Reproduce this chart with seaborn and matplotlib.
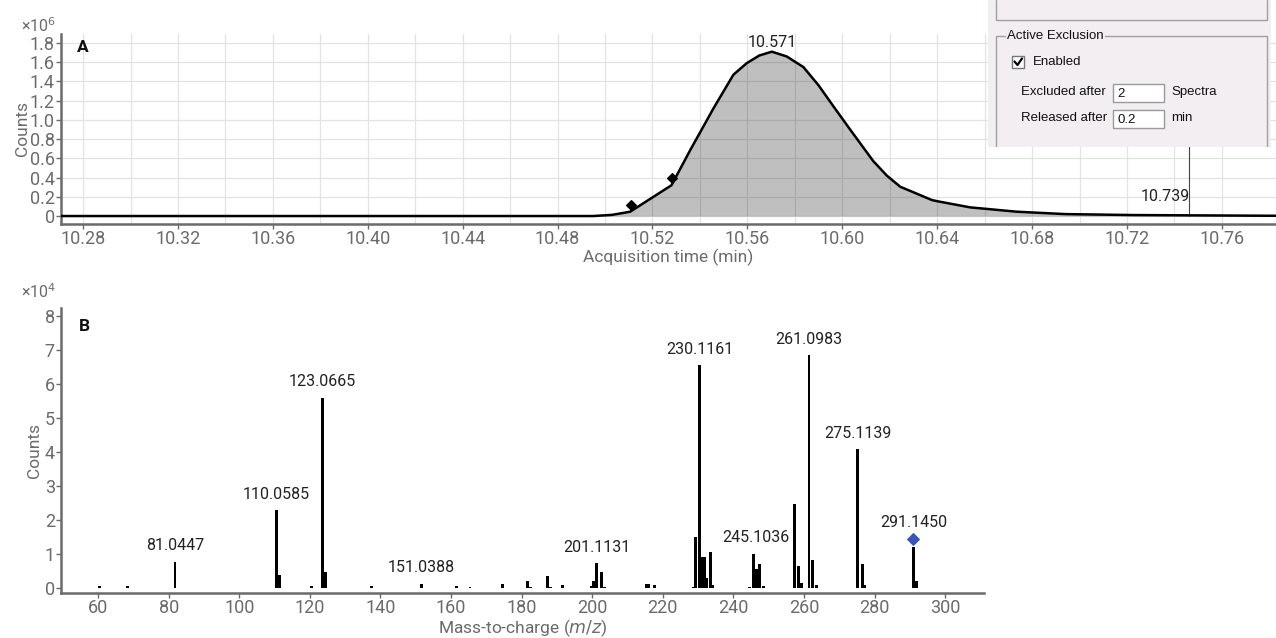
import matplotlib
matplotlib.use('Agg')
import matplotlib.pyplot as plt
import matplotlib.patches as mpatches
import seaborn as sns
import numpy as np
import pandas as pd

# chromatogram (A), counts x1e6
rt = [10.27, 10.40, 10.495, 10.503, 10.5106, 10.528, 10.536, 10.5457, 10.5541, 10.5597,
      10.5650, 10.5703, 10.5766, 10.5836, 10.5900, 10.5963, 10.6033, 10.6131, 10.6188,
      10.6244, 10.6377, 10.6398, 10.6539, 10.6735, 10.694, 10.7226, 10.7789, 10.785]
counts = [0.0, 0.0, 0.0, 0.012, 0.045, 0.32, 0.69, 1.12, 1.47, 1.59,
          1.67, 1.71, 1.66, 1.55, 1.36, 1.14, 0.90, 0.57, 0.42,
          0.305, 0.167, 0.155, 0.09, 0.045, 0.02, 0.01, 0.003, 0.003]
ms2_rt = [10.511, 10.5284]
ms2_counts = [0.115, 0.40]
apex_rt, apex_label = 10.5703, '10.571'
marker_rt, marker_label = 10.746, '10.739'

# spectrum (B), counts x1e4
mz = [60.4, 68.4, 81.8, 110.55, 111.4, 120.5, 123.56, 124.4, 137.4, 151.6,
      161.5, 165.4, 174.5, 181.6, 182.6, 187.4, 188.2, 191.6, 199.8, 200.4,
      201.3, 202.6, 203.4, 215.3, 216.0, 217.6, 228.6, 229.2, 230.5, 231.3,
      231.9, 232.4, 233.6, 234.2, 244.5, 245.6, 246.3, 246.9, 247.4, 248.5,
      257.2, 258.4, 259.2, 261.4, 262.3, 263.5, 275.2, 276.5, 277.3, 291.0, 291.9]
inten = [0.05, 0.05, 0.77, 2.29, 0.38, 0.05, 5.60, 0.48, 0.05, 0.12,
         0.05, 0.03, 0.12, 0.20, 0.03, 0.35, 0.03, 0.08, 0.05, 0.20,
         0.73, 0.46, 0.03, 0.12, 0.12, 0.10, 0.03, 1.51, 6.56, 0.90,
         0.90, 0.30, 1.07, 0.10, 0.03, 1.00, 0.55, 0.55, 0.70, 0.07,
         2.47, 0.65, 0.15, 6.85, 0.82, 0.08, 4.08, 0.70, 0.08, 1.21, 0.20]
label_mz = [81.8, 110.55, 123.56, 151.6, 201.3, 230.5, 246.3, 261.4, 275.2, 291.0]
label_y = [0.77, 2.29, 5.60, 0.12, 0.73, 6.56, 1.00, 6.85, 4.08, 1.45]
label_txt = ['81.0447', '110.0585', '123.0665', '151.0388', '201.1131', '230.1161',
             '245.1036', '261.0983', '275.1139', '291.1450']
precursor_mz, precursor_y = 291.0, 1.45

sns.set_theme(style='white')
plt.rcParams['font.family'] = ['Roboto', 'DejaVu Sans']
gray = '#6b6b6b'

fig = plt.figure(figsize=(12.76, 6.38), dpi=100)
W, H = 1276, 638

# ---------- panel A ----------
axA = fig.add_axes([61 / W, 1 - 224 / H, 1 - 61 / W, 190 / H])
df_a = pd.DataFrame({'rt': rt, 'counts': counts})
axA.fill_between(df_a['rt'], df_a['counts'], 0, color='black', alpha=0.25, lw=0, zorder=1)
sns.lineplot(data=df_a, x='rt', y='counts', ax=axA, color='black', lw=1.8, zorder=3)
axA.scatter(ms2_rt, ms2_counts, marker='D', s=24, color='black', zorder=4)
axA.text(apex_rt, 1.73, apex_label, ha='center', va='bottom', fontsize=11.5, color='#222222')
axA.vlines(marker_rt, 0, 1.9, color='#444444', lw=0.8, zorder=2)
axA.text(marker_rt + 0.0005, 0.12, marker_label, ha='right', va='bottom', fontsize=11.5, color='#222222')

axA.set_xlim(10.2707, 10.7828)
axA.set_ylim(-0.083, 1.894)
axA.set_xticks(np.arange(10.28, 10.77, 0.04))
axA.set_xticks(np.arange(10.28, 10.78, 0.02), minor=True)
axA.set_xticklabels([f'{v:.2f}' for v in np.arange(10.28, 10.77, 0.04)])
yt = np.arange(0, 1.81, 0.2)
axA.set_yticks(yt)
axA.set_yticklabels(['0'] + [f'{v:.1f}' for v in yt[1:]])
axA.grid(True, which='both', color='#e3e3e3', lw=0.9, zorder=0)
axA.set_axisbelow(True)
axA.set_xlabel('Acquisition time (min)', color=gray, fontsize=12.5, labelpad=0)
axA.set_ylabel('Counts', color=gray, fontsize=12.5, labelpad=0)
axA.text(0.013, 0.97, 'A', transform=axA.transAxes, fontsize=12.5, fontweight='bold',
         va='top', color='#111111')

# ---------- panel B ----------
axB = fig.add_axes([61 / W, 1 - 593 / H, (984 - 61) / W, 285 / H])
df_b = pd.DataFrame({'mz': mz, 'inten': inten})
axB.bar(df_b['mz'], df_b['inten'], width=0.8, color='black', lw=0)
for x, y, t in zip(label_mz, label_y, label_txt):
    axB.text(x, y + 0.25, t, ha='center', va='bottom', fontsize=11.5, color='#222222')
axB.scatter([precursor_mz], [precursor_y], marker='D', s=34, color='#3a55b4', zorder=4)
axB.set_xlim(49.5, 311)
axB.set_ylim(-0.15, 8.24)
axB.set_xticks(np.arange(60, 301, 20))
axB.set_yticks(np.arange(0, 9, 1))
axB.set_xlabel('Mass-to-charge ($m/z$)', color=gray, fontsize=12.5, labelpad=0)
axB.set_ylabel('Counts', color=gray, fontsize=12.5, labelpad=2)
axB.text(0.019, 0.96, 'B', transform=axB.transAxes, fontsize=12.5, fontweight='bold',
         va='top', color='#111111')

for ax in (axA, axB):
    sns.despine(ax=ax)
    for s in ('left', 'bottom'):
        ax.spines[s].set_color(gray)
        ax.spines[s].set_linewidth(1.8)
    ax.tick_params(axis='both', which='major', colors=gray, labelsize=13, length=3.5,
                   width=1, direction='out', pad=1, left=True, bottom=True)
    ax.tick_params(axis='x', which='minor', length=0)

fig.text(21 / W, 1 - 26 / H, r'×10$^{6}$', fontsize=11.5, color=gray, va='center')
fig.text(21 / W, 1 - 292 / H, r'×10$^{4}$', fontsize=11.5, color=gray, va='center')

# ---------- dialog screenshot inset ----------
ins = fig.add_axes([988 / W, 1 - 147 / H, (1271 - 988) / W, 147 / H], zorder=10)
ins.set_xlim(988, 1271)
ins.set_ylim(147, 0)
ins.axis('off')
ins.add_patch(mpatches.Rectangle((988, 0), 283, 147, color='#f2eef2', lw=0))
ins.plot([996, 996, 1267, 1267], [0, 20, 20, 0], color='#a0a0a0', lw=1)
ins.plot([1005, 996, 996], [36, 36, 147], color='#a0a0a0', lw=1)
ins.plot([1105, 1267, 1267], [36, 36, 147], color='#a0a0a0', lw=1)
dfont = dict(family=['Liberation Sans', 'DejaVu Sans'], fontsize=9.5, color='#111111', va='center')
ins.text(1007, 36, 'Active Exclusion', **dfont)
ins.add_patch(mpatches.Rectangle((1012, 56), 12, 12, facecolor='white', edgecolor='#777777', lw=1))
ins.plot([1014.5, 1017.5, 1022], [61.5, 65, 58.5], color='black', lw=1.6)
ins.text(1033, 62, 'Enabled', **dfont)
ins.text(1021, 92, 'Excluded after', **dfont)
ins.add_patch(mpatches.Rectangle((1113, 84), 51, 18, facecolor='white', edgecolor='#9a9a9a', lw=1))
ins.text(1117, 94, '2', **dfont)
ins.text(1171, 92, 'Spectra', **dfont)
ins.text(1021, 118, 'Released after', **dfont)
ins.add_patch(mpatches.Rectangle((1113, 110), 51, 18, facecolor='white', edgecolor='#9a9a9a', lw=1))
ins.text(1117, 120, '0.2', **dfont)
ins.text(1171, 118, 'min', **dfont)

fig.savefig('out.png', dpi=100)
